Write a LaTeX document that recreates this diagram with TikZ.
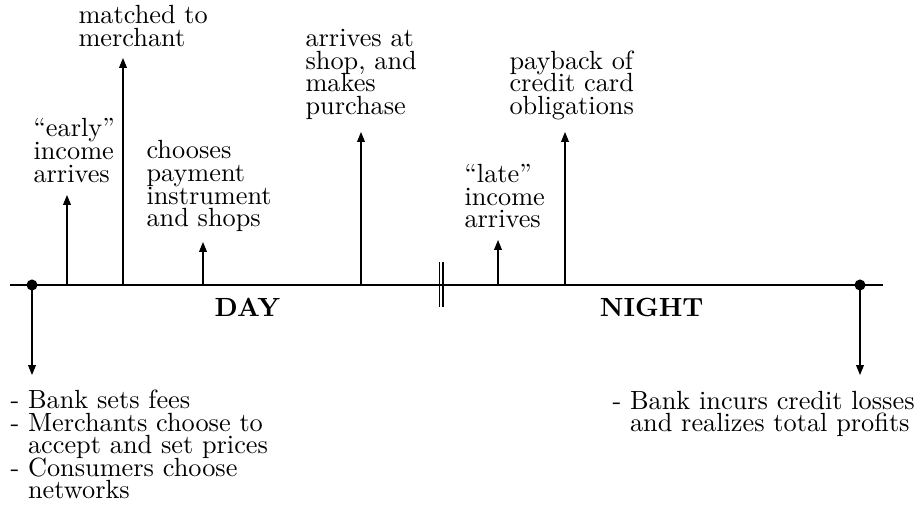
\documentclass[tikz,border=0pt]{standalone}
\usetikzlibrary{arrows.meta}
\begin{document}
\begin{tikzpicture}[x=0.3802pt,y=-0.3802pt,
  lbl/.style={anchor=base west, inner sep=0pt, align=left, text width=140pt,
    font={\fontsize{10pt}{8.6pt}\selectfont},
    execute at begin node={\baselineskip=8.6pt\lineskiplimit=-20pt\relax}},
  evt/.style={-{Triangle[length=3.8pt,width=3pt]}},
  dot/.style={circle, fill=black, inner sep=0pt, minimum size=4.2pt},
  period/.style={anchor=base, inner sep=0pt, font={\fontsize{10pt}{12pt}\selectfont\bfseries}}]
\useasboundingbox (0,0) rectangle (918,516);

% time line
\coordinate (tlL) at (10,285);
\coordinate (tlR) at (883,285);
\draw (tlL) -- (tlR);

% start and end points
\node[dot] (d0) at (32,285) {};
\node[dot] (d1) at (860,285) {};
\coordinate (e0) at (32,375);
\coordinate (e1) at (860,375);
\draw[evt] (d0.center) -- (e0);
\draw[evt] (d1.center) -- (e1);

% event arrows
\coordinate (u1) at (67,285);   \coordinate (v1) at (67,195);
\coordinate (u2) at (123,285);  \coordinate (v2) at (123,58);
\coordinate (u3) at (203,285);  \coordinate (v3) at (203,242);
\coordinate (u4) at (361,285);  \coordinate (v4) at (361,132);
\coordinate (u5) at (498,285);  \coordinate (v5) at (498,240);
\coordinate (u6) at (565,285);  \coordinate (v6) at (565,132);
\draw[evt] (u1) -- (v1);
\draw[evt] (u2) -- (v2);
\draw[evt] (u3) -- (v3);
\draw[evt] (u4) -- (v4);
\draw[evt] (u5) -- (v5);
\draw[evt] (u6) -- (v6);

% day/night separator
\coordinate (s1a) at (439.5,262); \coordinate (s1b) at (439.5,307);
\coordinate (s2a) at (443,262);   \coordinate (s2b) at (443,307);
\draw (s1a) -- (s1b);
\draw (s2a) -- (s2b);

% labels
\node[lbl] (early) at (33,137) {``early''\\income\\arrives};
\node[lbl] (matched) at (78,24) {matched to\\merchant};
\node[lbl] (chooses) at (146,159) {chooses\\payment\\instrument\\and shops};
\node[lbl] (shop) at (305,46.7) {arrives at\\shop, and\\makes\\purchase};
\node[lbl] (late) at (464,182.7) {``late''\\income\\arrives};
\node[lbl] (payback) at (509,69.3) {payback of\\credit card\\obligations};

\node[period] (day) at (247.5,316.7) {DAY};
\node[period] (night) at (651.7,316.7) {NIGHT};

\node[lbl] (bankL) at (10,408.5) {- Bank sets fees\\- Merchants choose to\\\hphantom{- }accept and set prices\\- Consumers choose\\\hphantom{- }networks};
\node[lbl] (bankR) at (612,409) {- Bank incurs credit losses\\\hphantom{- }and realizes total profits};
\end{tikzpicture}
\end{document}
